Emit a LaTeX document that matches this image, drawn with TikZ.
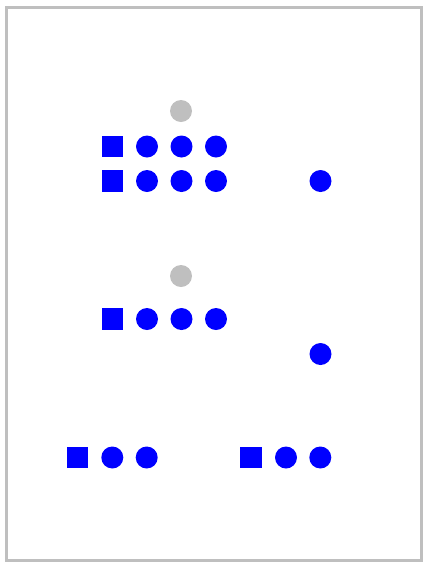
\documentclass[tikz,border=0pt]{standalone}
\begin{document}
\begin{tikzpicture}[x=0.75pt,y=-0.75pt,
  sq/.style={draw=none,fill=blue,minimum size=16.2pt,inner sep=0pt,outer sep=0pt,rectangle},
  dot/.style={draw=none,fill=blue,minimum size=16.5pt,inner sep=0pt,outer sep=0pt,circle},
  gdot/.style={dot,fill=black!25}]
\useasboundingbox (0,0) rectangle (423,562);
\draw[black!25,line width=2.25pt] (6.5,7.5) rectangle (421.5,560.5);
% top group
\node[gdot] (g1) at (181,111) {};
\node[sq] (s1) at (112.5,146.5) {};
\node[dot] (a1) at (147,146.5) {};
\node[dot] (a2) at (181.5,146.5) {};
\node[dot] (a3) at (216,146.5) {};
\node[sq] (s2) at (112.5,181) {};
\node[dot] (b1) at (147,181) {};
\node[dot] (b2) at (181.5,181) {};
\node[dot] (b3) at (216,181) {};
\node[dot] (b4) at (320.5,181) {};
% middle group
\node[gdot] (g2) at (181,276) {};
\node[sq] (s3) at (112.5,319) {};
\node[dot] (c1) at (147,319) {};
\node[dot] (c2) at (181.5,319) {};
\node[dot] (c3) at (216,319) {};
\node[dot] (c4) at (320.5,354) {};
% bottom row
\node[sq] (s4) at (77.5,457.5) {};
\node[dot] (d1) at (112.3,457.5) {};
\node[dot] (d2) at (146.7,457.5) {};
\node[sq] (s5) at (251,457.5) {};
\node[dot] (e1) at (286,457.5) {};
\node[dot] (e2) at (320.3,457.5) {};
\end{tikzpicture}
\end{document}
